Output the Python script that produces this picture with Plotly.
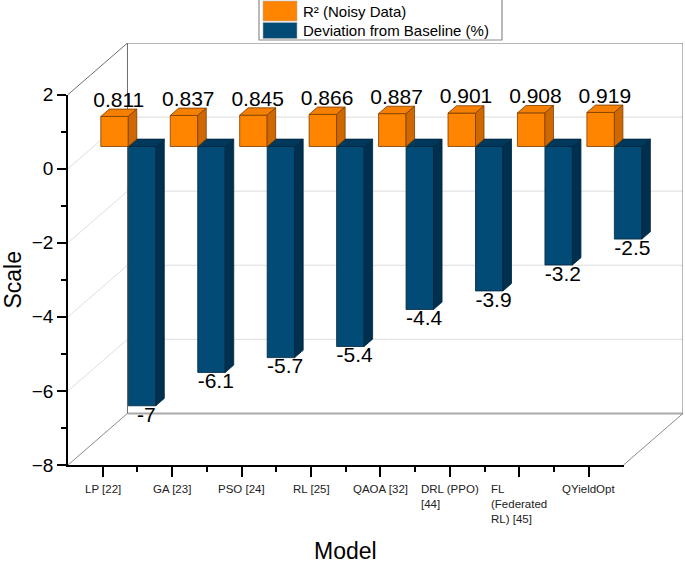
import plotly.graph_objects as go

# ---------------- data ----------------
categories = ["LP [22]", "GA [23]", "PSO [24]", "RL [25]", "QAOA [32]",
              "DRL (PPO)<br>[44]", "FL<br>(Federated<br>RL) [45]", "QYieldOpt"]
r2_noisy = [0.811, 0.837, 0.845, 0.866, 0.887, 0.901, 0.908, 0.919]
deviation = [-7, -6.1, -5.7, -5.4, -4.4, -3.9, -3.2, -2.5]
series_names = ["R² (Noisy Data)", "Deviation from Baseline (%)"]
y_ticks = [-8, -6, -4, -2, 0, 2]

# ---------------- geometry / style ----------------
W, H = 685, 566
ML, MR, MT, MB = 68, 2, 43, 101
PX_X, PX_Y = 69.44, 37.04              # px per category / per value unit
plotW, plotH = W - ML - MR, H - MT - MB
NCAT = len(categories)
YMIN, YTOP = -8, 2
XMAX = plotW / PX_X
YMAX = YMIN + plotH / PX_Y
DX, DY = XMAX - NCAT, YMAX - YTOP      # depth vector of the 3D box (data units)

F_DEPTH = 0.43                         # bar front plane depth fraction
B_DEPTH = 0.143                        # bar thickness fraction
fx, fy = F_DEPTH * DX, F_DEPTH * DY
ddx, ddy = B_DEPTH * DX, B_DEPTH * DY
BW = 0.396                             # bar width (category units)
LABEL_DROP = 3 / PX_Y                  # pull top labels 3px closer to the bars

FONT = "Arial, Liberation Sans, sans-serif"
OR_FRONT, OR_TOP, OR_SIDE, OR_EDGE = "#FF8500", "#F47F00", "#CF6800", "#7A3C00"
BL_FRONT, BL_TOP, BL_SIDE, BL_EDGE = "#024B76", "#01395C", "#00304F", "#00243C"

fig = go.Figure()


def line_trace(xs, ys, color, width):
    fig.add_trace(go.Scatter(x=xs, y=ys, mode="lines", line=dict(color=color, width=width),
                             hoverinfo="skip", showlegend=False, xaxis="x", yaxis="y"))


# ---------------- box walls & grid ----------------
gx, gy = [], []
for v in y_ticks:
    if v in (YMIN, YTOP):
        continue
    gx += [0, DX, NCAT + DX, None]
    gy += [v, v + DY, v + DY, None]
line_trace(gx, gy, "#DDDDDD", 1)
line_trace([DX, NCAT + DX], [YMIN + DY, YMIN + DY], "#AAAAAA", 2)
line_trace([0, DX, DX, None, DX, NCAT + DX, NCAT + DX],
           [YTOP, YTOP + DY, YMIN + DY, None, YTOP + DY, YTOP + DY, YMIN + DY], "#6E6E6E", 1)
line_trace([0, DX, None, NCAT, NCAT + DX],
           [YMIN, YMIN + DY, None, YMIN, YMIN + DY], "#8A8A8A", 1)


# ---------------- bars ----------------
def faces(x0, x1, v):
    lo, hi = min(0, v) + fy, max(0, v) + fy
    front = [(x0, lo), (x1, lo), (x1, hi), (x0, hi)]
    top = [(x0, hi), (x1, hi), (x1 + ddx, hi + ddy), (x0 + ddx, hi + ddy)]
    side = [(x1, lo), (x1 + ddx, lo + ddy), (x1 + ddx, hi + ddy), (x1, hi)]
    return front, top, side


def poly_trace(polys, fill, edge):
    xs, ys = [], []
    for p in polys:
        xs += [q[0] for q in p] + [p[0][0], None]
        ys += [q[1] for q in p] + [p[0][1], None]
    fig.add_trace(go.Scatter(x=xs, y=ys, mode="lines", fill="toself", fillcolor=fill,
                             line=dict(color=edge, width=0.8), hoverinfo="skip",
                             showlegend=False, xaxis="x", yaxis="y"))


for vals, side_sign, cols in [(deviation, 1, (BL_FRONT, BL_TOP, BL_SIDE, BL_EDGE)),
                              (r2_noisy, -1, (OR_FRONT, OR_TOP, OR_SIDE, OR_EDGE))]:
    fr, tp, sd = [], [], []
    for i, v in enumerate(vals):
        xc = i + 0.5 + fx
        x0, x1 = (xc, xc + BW) if side_sign > 0 else (xc - BW, xc)
        a, b, c = faces(x0, x1, v)
        fr.append(a); tp.append(b); sd.append(c)
    poly_trace(fr, cols[0], cols[3])
    poly_trace(tp, cols[1], cols[3])
    poly_trace(sd, cols[2], cols[3])

# value labels
fig.add_trace(go.Scatter(
    x=[i + 0.5 + fx - BW / 2 + ddx / 2 for i in range(NCAT)],
    y=[v + fy + ddy - LABEL_DROP for v in r2_noisy],
    mode="text", text=[f"{v:.3f}" for v in r2_noisy], textposition="top center",
    textfont=dict(family=FONT, size=21, color="black"),
    hoverinfo="skip", showlegend=False, cliponaxis=False, xaxis="x", yaxis="y"))
fig.add_trace(go.Scatter(
    x=[i + 0.5 + fx + BW / 2 + ddx / 2 for i in range(NCAT)],
    y=[v + fy for v in deviation],
    mode="text", text=[f"{v:g}" for v in deviation], textposition="bottom center",
    textfont=dict(family=FONT, size=21, color="black"),
    hoverinfo="skip", showlegend=False, cliponaxis=False, xaxis="x", yaxis="y"))

# dummy trace for the visible front axes
fig.add_trace(go.Scatter(x=[None], y=[None], xaxis="x2", yaxis="y2",
                         showlegend=False, hoverinfo="skip"))

# ---------------- category labels ----------------
annotations = []
for i, c in enumerate(categories):
    annotations.append(dict(x=i + 0.5, y=YMIN, xref="x2", yref="y2", text=c,
                            showarrow=False, xanchor="center", yanchor="top", align="left",
                            yshift=-16, font=dict(family=FONT, size=11.5, color="#222222")))
annotations.append(dict(x=NCAT / 2, y=YMIN, xref="x2", yref="y2", text="Model",
                        showarrow=False, xanchor="center", yanchor="middle", yshift=-86,
                        font=dict(family=FONT, size=23, color="black")))


# ---------------- legend (drawn) ----------------
def px_x(p):          # window pixel -> paper x
    return (p - ML) / plotW


def px_y(p):          # window pixel -> paper y
    return (H - MB - p) / plotH


shapes = [
    dict(type="rect", xref="paper", yref="paper", x0=px_x(259), x1=px_x(502),
         y0=px_y(40), y1=px_y(-2), line=dict(color="#8C8C8C", width=1.2), fillcolor="white"),
    dict(type="rect", xref="paper", yref="paper", x0=px_x(263), x1=px_x(297),
         y0=px_y(21), y1=px_y(1), line=dict(color="#B0B0B0", width=0.6), fillcolor=OR_FRONT),
    dict(type="rect", xref="paper", yref="paper", x0=px_x(263), x1=px_x(297),
         y0=px_y(38.5), y1=px_y(22.5), line=dict(color="#B0B0B0", width=0.6), fillcolor=BL_FRONT),
]
for txt, yc in zip(series_names, [12, 30]):
    annotations.append(dict(x=px_x(301), y=px_y(yc), xref="paper", yref="paper", text=txt,
                            showarrow=False, xanchor="left", yanchor="middle",
                            font=dict(family=FONT, size=15, color="black")))

fig.update_layout(
    width=W, height=H, margin=dict(l=ML, r=MR, t=MT, b=MB),
    paper_bgcolor="white", plot_bgcolor="rgba(0,0,0,0)",
    showlegend=False,
    xaxis=dict(domain=[0, 1], range=[0, XMAX], visible=False, fixedrange=True),
    yaxis=dict(domain=[0, 1], range=[YMIN, YMAX], visible=False, fixedrange=True),
    xaxis2=dict(domain=[0, NCAT / XMAX], range=[0, NCAT], anchor="y2",
                showline=True, linecolor="black", linewidth=1.5, showgrid=False, zeroline=False,
                tickmode="array", tickvals=[i + 0.5 for i in range(NCAT)], ticktext=[""] * NCAT,
                ticks="outside", ticklen=10, tickwidth=1.5, tickcolor="black",
                showticklabels=False,
                minor=dict(tickmode="array", tickvals=list(range(1, NCAT)), ticks="outside",
                           ticklen=5, tickwidth=1.5, tickcolor="black"),
                fixedrange=True),
    yaxis2=dict(domain=[0, (YTOP - YMIN) / (YMAX - YMIN)], range=[YMIN, YTOP], anchor="x2",
                showline=True, linecolor="black", linewidth=1.5, showgrid=False, zeroline=False,
                tickmode="array", tickvals=y_ticks,
                ticks="outside", ticklen=9, tickwidth=1.5, tickcolor="black",
                tickfont=dict(family=FONT, size=19, color="black"),
                minor=dict(dtick=1, ticks="outside", ticklen=5, tickwidth=1.5, tickcolor="black"),
                title=dict(text="Scale", font=dict(family=FONT, size=23, color="black"), standoff=14),
                fixedrange=True),
    shapes=shapes, annotations=annotations,
)

fig.write_html("out.html", config={"displayModeBar": False},
               post_script="document.body.style.margin='0';document.body.style.padding='0';")
